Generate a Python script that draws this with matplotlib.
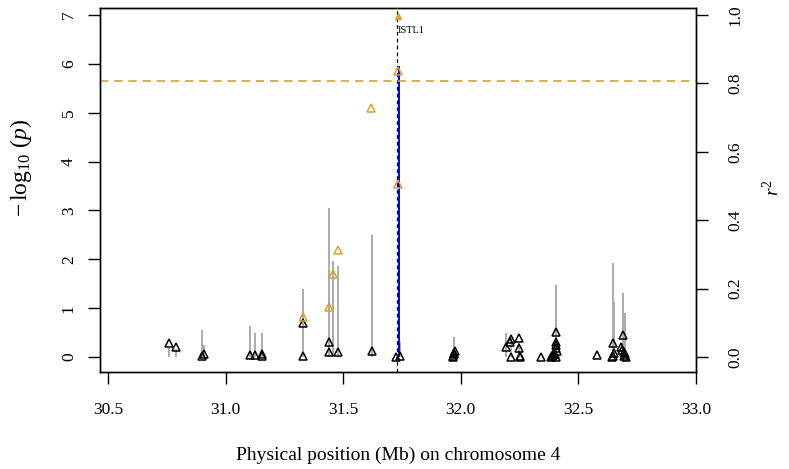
import numpy as np
import matplotlib
matplotlib.use("Agg")
import matplotlib.pyplot as plt

plt.rcParams["font.family"] = ["Liberation Serif", "DejaVu Serif"]
plt.rcParams["mathtext.fontset"] = "custom"
plt.rcParams["mathtext.rm"] = "Liberation Serif"
plt.rcParams["mathtext.it"] = "Liberation Serif:italic"

# SNP positions (Mb) and -log10(p), black = low LD, orange = high LD
black_pos = [30.759, 30.789, 30.898, 30.909, 31.103, 31.127, 31.153, 31.153,
             31.327, 31.327, 31.440, 31.440, 31.477, 31.623, 31.726, 31.740,
             31.965, 31.968, 31.970, 31.972, 31.975,
             32.192, 32.208, 32.212, 32.212, 32.249, 32.249, 32.252, 32.252,
             32.340, 32.382, 32.388, 32.392, 32.400, 32.403, 32.403, 32.406,
             32.403, 32.403, 32.410,
             32.580, 32.642, 32.647, 32.650, 32.647, 32.682, 32.685, 32.688,
             32.693, 32.699, 32.703, 32.696]
black_logp = [0.28, 0.20, 0.02, 0.06, 0.04, 0.05, 0.02, 0.06,
              0.69, 0.02, 0.31, 0.10, 0.10, 0.12, 0.00, 0.02,
              0.00, 0.03, 0.06, 0.09, 0.12,
              0.21, 0.31, 0.36, 0.00, 0.38, 0.18, 0.02, 0.00,
              0.00, 0.00, 0.02, 0.04, 0.07, 0.00, 0.18, 0.24,
              0.31, 0.52, 0.13,
              0.04, 0.00, 0.02, 0.09, 0.29, 0.21, 0.14, 0.45,
              0.11, 0.07, 0.00, 0.02]

orange_pos = [31.327, 31.440, 31.455, 31.477, 31.617, 31.735, 31.735]
orange_logp = [0.81, 1.03, 1.69, 2.18, 5.09, 3.54, 5.86]
lead_pos = 31.733
lead_logp = 6.97

# r^2 bars, height in -log10(p) units (r^2 * 7)
ld_pos = [30.759, 30.789, 30.898, 30.909, 31.103, 31.127, 31.153, 31.327,
          31.440, 31.455, 31.477, 31.623, 31.740, 31.970, 32.192, 32.212,
          32.249, 32.405, 32.647, 32.650, 32.688, 32.700]
ld_height = [0.18, 0.16, 0.55, 0.24, 0.63, 0.50, 0.50, 1.40,
             3.04, 1.96, 1.86, 2.49, 0.31, 0.41, 0.50, 0.45,
             0.28, 1.47, 1.92, 1.13, 1.31, 0.91]
lead_bar_height = 5.96

threshold = 5.64
gene_pos = 31.729
gene_name = "ISTL1"

xticks = [30.5, 31.0, 31.5, 32.0, 32.5, 33.0]
r2_ticks = [0.0, 0.2, 0.4, 0.6, 0.8, 1.0]

orange = "#DAA030"

fig = plt.figure(figsize=(7.89, 4.69), dpi=100)
ax = fig.add_axes([100 / 789, 1 - 372 / 469, 596 / 789, 364 / 469])

ax.vlines(ld_pos, 0, ld_height, color="#ABABAB", linewidth=1.4, zorder=1)
ax.vlines(lead_pos + 0.003, 0, lead_bar_height, color="#0000FF", linewidth=1.4, zorder=2)
ax.axvline(gene_pos, color="black", linestyle=(0, (3, 2.5)), linewidth=0.9, zorder=3)
ax.axhline(threshold, color=orange, linestyle=(0, (5, 3.5)), linewidth=1.2, zorder=3)

ax.plot(black_pos, black_logp, linestyle="none", marker="^", markersize=6,
        markerfacecolor="none", markeredgecolor="black", markeredgewidth=1.1, zorder=4)
ax.plot(orange_pos, orange_logp, linestyle="none", marker="^", markersize=6,
        markerfacecolor="none", markeredgecolor=orange, markeredgewidth=1.1, zorder=5)
ax.plot([lead_pos], [lead_logp], linestyle="none", marker="^", markersize=4,
        color=orange, zorder=5)

ax.text(gene_pos + 0.004, 6.68, gene_name, fontsize=7.5, ha="left", va="center")

ax.set_xlim(30.466, 33.0)
ax.set_ylim(-0.307, 7.143)
ax.set_xticks(xticks)
ax.set_xticklabels([f"{t:.1f}" for t in xticks])
ax.set_yticks(range(8))

ax.tick_params(axis="both", direction="out", length=8.6, width=1.0, labelsize=12.5)
ax.tick_params(axis="x", pad=13)
ax.tick_params(axis="y", pad=8, labelrotation=90)
for lab in ax.get_yticklabels():
    lab.set_va("center")
for sp in ax.spines.values():
    sp.set_linewidth(1.0)

ax2 = ax.twinx()
ax2.set_ylim(-0.307 / 7, 7.143 / 7)
ax2.set_yticks(r2_ticks)
ax2.set_yticklabels([f"{t:.1f}" for t in r2_ticks])
ax2.tick_params(axis="y", direction="out", length=8.6, width=1.0, labelsize=12.5,
                pad=14, labelrotation=90)
for lab in ax2.get_yticklabels():
    lab.set_va("center")
for sp in ax2.spines.values():
    sp.set_linewidth(1.0)

fig.text(398 / 789, 1 - 455 / 469, "Physical position (Mb) on chromosome 4",
         fontsize=14, ha="center", va="center")
fig.text(21 / 789, 1 - 168 / 469, r"$-\,\log_{10}\,(p)$", fontsize=17,
         rotation=90, ha="center", va="center")
fig.text(772 / 789, 1 - 188 / 469, r"$r^2$", fontsize=14,
         rotation=90, ha="center", va="center")

fig.savefig("out.png", dpi=100)
